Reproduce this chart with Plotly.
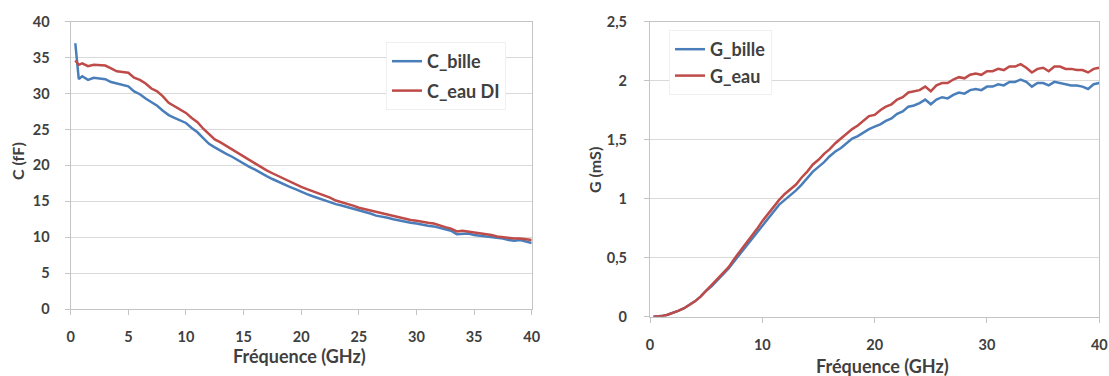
import plotly.graph_objects as go

# ---------------- data ----------------
freq_C = [0.4, 0.7] + [1.0 + 0.5 * i for i in range(79)]
C_bille = [37.0, 32.0,
           32.4, 31.9, 32.2, 32.1, 32.0, 31.6, 31.4, 31.3, 31.0, 30.3,
           29.9, 29.3, 28.8, 28.3, 27.6, 27.0, 26.6, 26.3, 25.9, 25.2,
           24.6, 23.8, 23.0, 22.5, 22.0, 21.6, 21.2, 20.7, 20.2, 19.8,
           19.4, 18.9, 18.5, 18.1, 17.7, 17.3, 17.0, 16.7, 16.3, 16.0,
           15.7, 15.4, 15.2, 14.9, 14.6, 14.4, 14.2, 13.9, 13.7, 13.5,
           13.3, 13.0, 12.9, 12.7, 12.5, 12.3, 12.1, 12.0, 11.9, 11.7,
           11.6, 11.5, 11.3, 11.0, 10.9, 10.4, 10.5, 10.5, 10.3, 10.2,
           10.2, 10.0, 9.9, 9.8, 9.6, 9.5, 9.6, 9.4, 9.2]
C_eau = [34.6, 34.0,
         34.2, 33.8, 34.0, 33.9, 33.9, 33.5, 33.1, 33.0, 32.9, 32.2,
         31.9, 31.4, 30.7, 30.3, 29.6, 28.7, 28.2, 27.8, 27.3, 26.6,
         26.0, 25.1, 24.3, 23.6, 23.2, 22.7, 22.2, 21.7, 21.2, 20.7,
         20.2, 19.8, 19.3, 18.9, 18.5, 18.1, 17.7, 17.4, 17.0, 16.7,
         16.4, 16.1, 15.9, 15.5, 15.1, 14.9, 14.6, 14.4, 14.1, 13.9,
         13.7, 13.5, 13.4, 13.1, 12.9, 12.7, 12.5, 12.4, 12.3, 12.1,
         12.0, 11.9, 11.6, 11.4, 11.2, 10.8, 10.9, 10.8, 10.7, 10.6,
         10.5, 10.3, 10.1, 10.0, 9.8, 9.8, 9.8, 9.7, 9.6]

freq_G = [0.3] + [1.0 + 0.5 * i for i in range(79)]
G_bille = [0.0,
           0.005, 0.015, 0.03, 0.05, 0.07, 0.10, 0.13, 0.17, 0.22, 0.26,
           0.31, 0.36, 0.41, 0.47, 0.53, 0.59, 0.65, 0.71, 0.78, 0.84,
           0.90, 0.95, 0.99, 1.03, 1.07, 1.12, 1.18, 1.23, 1.27, 1.31,
           1.36, 1.40, 1.43, 1.47, 1.51, 1.53, 1.56, 1.59, 1.61, 1.63,
           1.66, 1.68, 1.72, 1.74, 1.78, 1.79, 1.81, 1.84, 1.80, 1.84,
           1.86, 1.85, 1.88, 1.90, 1.89, 1.92, 1.93, 1.92, 1.95, 1.95,
           1.97, 1.96, 1.99, 1.99, 2.01, 1.99, 1.95, 1.98, 1.98, 1.96,
           1.99, 1.98, 1.97, 1.96, 1.96, 1.95, 1.93, 1.97, 1.98]
G_eau = [0.0,
         0.005, 0.015, 0.03, 0.05, 0.07, 0.10, 0.13, 0.17, 0.22, 0.27,
         0.32, 0.37, 0.42, 0.49, 0.55, 0.61, 0.67, 0.74, 0.81, 0.87,
         0.94, 0.99, 1.04, 1.08, 1.12, 1.18, 1.23, 1.29, 1.33, 1.38,
         1.42, 1.47, 1.51, 1.55, 1.59, 1.62, 1.66, 1.70, 1.71, 1.75,
         1.78, 1.80, 1.84, 1.86, 1.90, 1.91, 1.92, 1.95, 1.91, 1.96,
         1.98, 1.98, 2.01, 2.03, 2.02, 2.05, 2.06, 2.05, 2.08, 2.08,
         2.10, 2.09, 2.12, 2.12, 2.14, 2.11, 2.07, 2.10, 2.11, 2.08,
         2.12, 2.12, 2.10, 2.10, 2.09, 2.09, 2.07, 2.10, 2.11]

C_ticks = [0, 5, 10, 15, 20, 25, 30, 35, 40]
G_tickvals = [0, 0.5, 1, 1.5, 2, 2.5]
G_ticktext = ["0", "0,5", "1", "1,5", "2", "2,5"]
C_xticks = [0, 5, 10, 15, 20, 25, 30, 35, 40]
G_xticks = [0, 10, 20, 30, 40]

# ---------------- styling ----------------
BLUE = "#4a7ebb"
RED = "#be4b48"
FONT = "Lato"
TXT = "#404040"
W, H = 1109, 376

fig = go.Figure()
fig.add_trace(go.Scatter(x=freq_C, y=C_bille, mode="lines", name="C_bille",
                         line=dict(color=BLUE, width=2.5), xaxis="x", yaxis="y",
                         legend="legend", legendgroup="a"))
fig.add_trace(go.Scatter(x=freq_C, y=C_eau, mode="lines", name="C_eau DI",
                         line=dict(color=RED, width=2.5), xaxis="x", yaxis="y",
                         legend="legend", legendgroup="b"))
fig.add_trace(go.Scatter(x=freq_G, y=G_bille, mode="lines", name="G_bille",
                         line=dict(color=BLUE, width=2.5), xaxis="x2", yaxis="y2",
                         legend="legend2", legendgroup="c"))
fig.add_trace(go.Scatter(x=freq_G, y=G_eau, mode="lines", name="G_eau",
                         line=dict(color=RED, width=2.5), xaxis="x2", yaxis="y2",
                         legend="legend2", legendgroup="d"))

axis_common = dict(showline=True, linecolor="#c4c4c4", linewidth=1.3, mirror=True,
                   ticks="outside", tickcolor="#c4c4c4", ticklen=5,
                   tickfont=dict(family=FONT, size=14.5, color=TXT, weight="bold"),
                   zeroline=False, fixedrange=True, automargin=False)

def px_x(p):
    return p / W

def px_y(p):
    return (H - p) / H

fig.update_layout(
    width=W, height=H,
    margin=dict(l=0, r=0, t=0, b=0, autoexpand=False),
    paper_bgcolor="white", plot_bgcolor="white",
    showlegend=True,
    xaxis=dict(domain=[px_x(70.7), px_x(531.7)], range=[0, 40], tickvals=C_xticks,
               showgrid=False, anchor="y", ticklabelstandoff=9, **axis_common),
    yaxis=dict(domain=[px_y(309), px_y(21.7)], range=[0, 40], tickvals=C_ticks,
               showgrid=True, gridcolor="#d9d9d9", gridwidth=1.3, anchor="x",
               ticklabelstandoff=12, **axis_common),
    xaxis2=dict(domain=[px_x(650), px_x(1099.3)], range=[0, 40], tickvals=G_xticks,
                showgrid=False, anchor="y2", ticklabelstandoff=10, **axis_common),
    yaxis2=dict(domain=[px_y(316.7), px_y(21.7)], range=[0, 2.5], tickvals=G_tickvals,
                ticktext=G_ticktext, showgrid=True, gridcolor="#d9d9d9", gridwidth=1.3,
                anchor="x2", ticklabelstandoff=14, **axis_common),
    legend=dict(x=px_x(386), y=px_y(42), xanchor="left", yanchor="top",
                bgcolor="white", bordercolor="#f0f0f0", borderwidth=1,
                font=dict(family=FONT, size=18, color=TXT, weight="bold"),
                tracegroupgap=3, itemwidth=30),
    legend2=dict(x=px_x(669), y=px_y(30), xanchor="left", yanchor="top",
                 bgcolor="white", bordercolor="#f0f0f0", borderwidth=1,
                 font=dict(family=FONT, size=18, color=TXT, weight="bold"),
                 tracegroupgap=0, itemwidth=30),
    annotations=[
        dict(text="Fréquence (GHz)", x=px_x(300), y=px_y(356), xref="paper", yref="paper",
             showarrow=False, xanchor="center", yanchor="middle",
             font=dict(family=FONT, size=18, color=TXT, weight="bold")),
        dict(text="Fréquence (GHz)", x=px_x(882), y=px_y(366), xref="paper", yref="paper",
             showarrow=False, xanchor="center", yanchor="middle",
             font=dict(family=FONT, size=18, color=TXT, weight="bold")),
        dict(text="C (fF)", x=px_x(17), y=px_y(161), xref="paper", yref="paper",
             showarrow=False, xanchor="center", yanchor="middle", textangle=-90,
             font=dict(family=FONT, size=16, color=TXT, weight="bold")),
        dict(text="G (mS)", x=px_x(594), y=px_y(170), xref="paper", yref="paper",
             showarrow=False, xanchor="center", yanchor="middle", textangle=-90,
             font=dict(family=FONT, size=16, color=TXT, weight="bold")),
    ],
)

fig.write_html(
    "out.html",
    config={"displayModeBar": False},
    post_script="document.body.style.margin='0';document.body.style.overflow='hidden';",
)
